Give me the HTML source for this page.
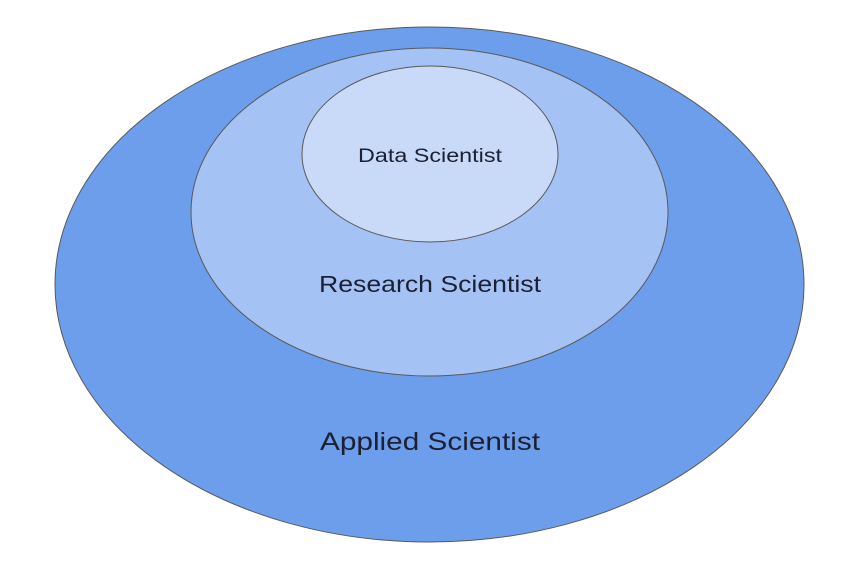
<!DOCTYPE html>
<html><head><meta charset="utf-8"><style>html,body{margin:0;padding:0;background:#fff;}svg{display:block}</style></head>
<body>
<svg width="856" height="565" viewBox="0 0 856 565" xmlns="http://www.w3.org/2000/svg">
<rect width="856" height="565" fill="#fff"/>
<ellipse cx="429.5" cy="284.5" rx="374.5" ry="257.5" fill="#6d9eeb" stroke="#595959" stroke-width="1"/>
<ellipse cx="429.5" cy="212" rx="238.5" ry="164" fill="#a4c2f4" stroke="#595959" stroke-width="1"/>
<ellipse cx="430" cy="154" rx="128" ry="88" fill="#c9daf8" stroke="#595959" stroke-width="1"/>
<g font-family="Liberation Sans, sans-serif" fill="#1c2033" text-anchor="middle">
<text x="430" y="162" font-size="19" textLength="144" lengthAdjust="spacingAndGlyphs">Data Scientist</text>
<text x="430" y="292" font-size="23" textLength="222" lengthAdjust="spacingAndGlyphs">Research Scientist</text>
<text x="430" y="450" font-size="25" textLength="220" lengthAdjust="spacingAndGlyphs">Applied Scientist</text>
</g>
</svg>
</body></html>
